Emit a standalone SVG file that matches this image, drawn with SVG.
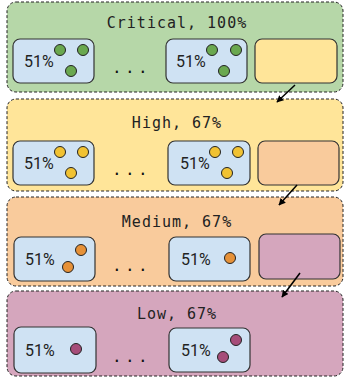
<svg xmlns="http://www.w3.org/2000/svg" width="344" height="381" viewBox="0 0 344 381">
<defs>
<style>
.tier{stroke:#222;stroke-width:1;stroke-dasharray:3,2}
.inner{fill:#cfe2f3;stroke:#333;stroke-width:1.2}
.slot{stroke:#333;stroke-width:1.2}
.title{font-family:"DejaVu Sans Mono",monospace;font-size:15px;fill:#222;text-anchor:middle;letter-spacing:1px}
.pct{font-family:Roboto,"Liberation Sans",sans-serif;font-size:16px;fill:#222}
.dots{font-family:"DejaVu Sans Mono",monospace;font-size:16px;fill:#111;letter-spacing:3.4px}
.dot{stroke:#222;stroke-width:1}
.conn{stroke:#000;stroke-width:1.5;fill:none}
</style>
<marker id="ah" viewBox="0 0 10 10" refX="9" refY="5" markerWidth="7" markerHeight="7" orient="auto" markerUnits="userSpaceOnUse">
<path d="M0,0 L10,5 L0,10 Z" fill="#000"/>
</marker>
</defs>

<g id="critical">
<rect class="tier" x="7" y="2" width="336" height="90" rx="9" fill="#b6d7a8"/>
<text class="title" x="177" y="28">Critical, 100%</text>
<rect class="inner" x="13" y="39" width="81" height="44" rx="7"/>
<text class="pct" x="24" y="67">51%</text>
<circle class="dot" cx="60" cy="50" r="5.5" fill="#6aa84f"/>
<circle class="dot" cx="83" cy="50" r="5.5" fill="#6aa84f"/>
<circle class="dot" cx="71" cy="71" r="5.5" fill="#6aa84f"/>
<text class="dots" x="112" y="73">...</text>
<rect class="inner" x="166" y="39" width="81" height="44" rx="7"/>
<text class="pct" x="176" y="67">51%</text>
<circle class="dot" cx="212" cy="50" r="5.5" fill="#6aa84f"/>
<circle class="dot" cx="236" cy="50" r="5.5" fill="#6aa84f"/>
<circle class="dot" cx="224" cy="71" r="5.5" fill="#6aa84f"/>
<rect class="slot" x="255" y="39" width="82" height="44" rx="7" fill="#ffe599"/>
</g>

<g id="high">
<rect class="tier" x="7" y="99" width="336" height="92" rx="9" fill="#ffe599"/>
<text class="title" x="177" y="128">High, 67%</text>
<rect class="inner" x="13" y="141" width="81" height="44" rx="7"/>
<text class="pct" x="24" y="169">51%</text>
<circle class="dot" cx="60" cy="152" r="5.5" fill="#f1c232"/>
<circle class="dot" cx="83" cy="152" r="5.5" fill="#f1c232"/>
<circle class="dot" cx="71" cy="173" r="5.5" fill="#f1c232"/>
<text class="dots" x="112" y="175">...</text>
<rect class="inner" x="168" y="141" width="82" height="44" rx="7"/>
<text class="pct" x="180" y="169">51%</text>
<circle class="dot" cx="215" cy="152" r="5.5" fill="#f1c232"/>
<circle class="dot" cx="238" cy="152" r="5.5" fill="#f1c232"/>
<circle class="dot" cx="227" cy="173" r="5.5" fill="#f1c232"/>
<rect class="slot" x="258" y="141" width="81" height="44" rx="7" fill="#f9cb9c"/>
</g>

<g id="medium">
<rect class="tier" x="7" y="197" width="336" height="89" rx="9" fill="#f9cb9c"/>
<text class="title" x="177" y="227">Medium, 67%</text>
<rect class="inner" x="14" y="237" width="81" height="44" rx="7"/>
<text class="pct" x="25" y="265">51%</text>
<circle class="dot" cx="81" cy="250" r="5.5" fill="#e69138"/>
<circle class="dot" cx="68" cy="267" r="5.5" fill="#e69138"/>
<text class="dots" x="112" y="271">...</text>
<rect class="inner" x="169" y="237" width="81" height="44" rx="7"/>
<text class="pct" x="181" y="265">51%</text>
<circle class="dot" cx="230" cy="258" r="5.5" fill="#e69138"/>
<rect class="slot" x="259" y="234" width="81" height="45" rx="7" fill="#d5a6bd"/>
</g>

<g id="low">
<rect class="tier" x="7" y="291" width="336" height="85" rx="9" fill="#d5a6bd"/>
<text class="title" x="177" y="319">Low, 67%</text>
<rect class="inner" x="14" y="327" width="82" height="46" rx="7"/>
<text class="pct" x="25" y="356">51%</text>
<circle class="dot" cx="76" cy="349" r="5.5" fill="#a64d79"/>
<text class="dots" x="112" y="362">...</text>
<rect class="inner" x="169" y="328" width="81" height="44" rx="7"/>
<text class="pct" x="181" y="356">51%</text>
<circle class="dot" cx="236" cy="340" r="5.5" fill="#a64d79"/>
<circle class="dot" cx="223" cy="357" r="5.5" fill="#a64d79"/>
</g>

<g id="connectors">
<line class="conn" x1="295" y1="85" x2="277" y2="102" marker-end="url(#ah)"/>
<line class="conn" x1="297" y1="185" x2="279" y2="205" marker-end="url(#ah)"/>
<line class="conn" x1="300" y1="273" x2="282" y2="297" marker-end="url(#ah)"/>
</g>
</svg>
